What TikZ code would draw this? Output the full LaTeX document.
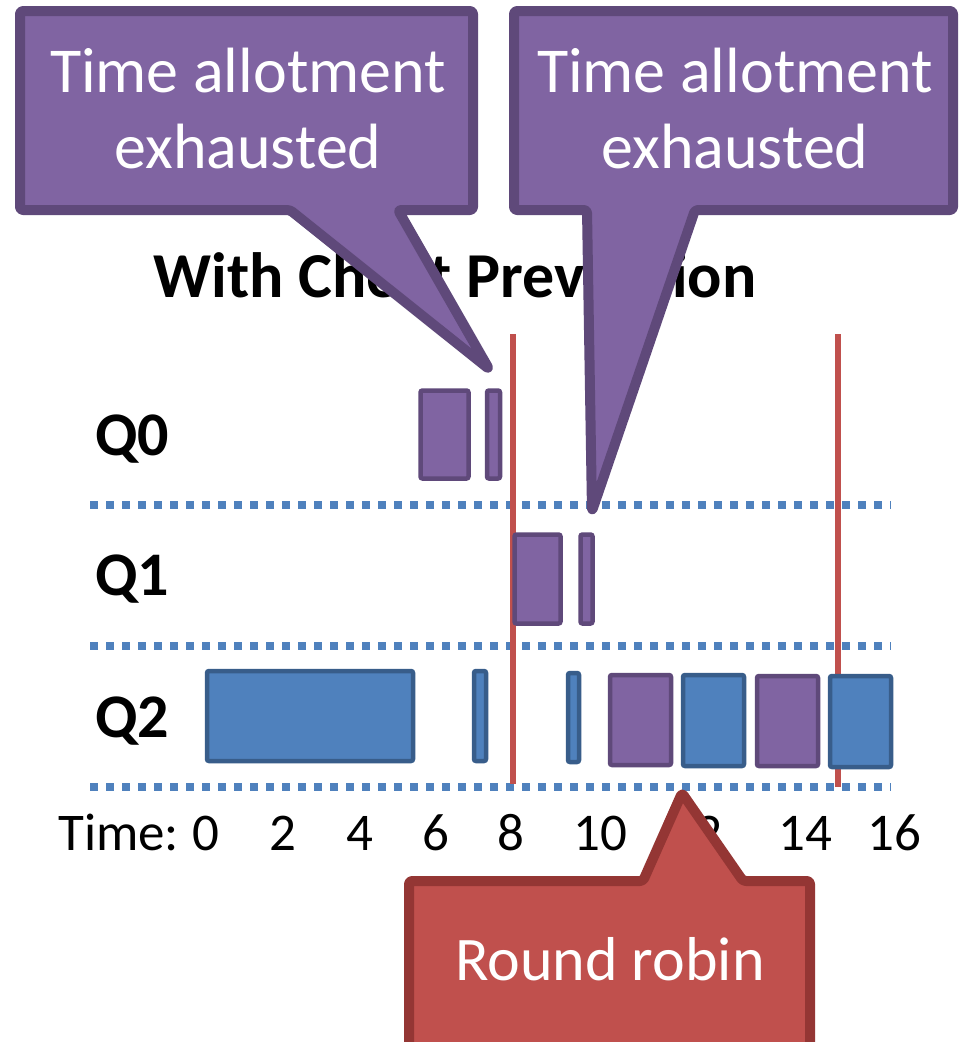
\documentclass[tikz,border=0pt]{standalone}
\usepackage{fontspec}
\setmainfont{Carlito}
\definecolor{pfill}{HTML}{8064A2}
\definecolor{pline}{HTML}{5F497A}
\definecolor{bfill}{HTML}{4F81BD}
\definecolor{bline}{HTML}{385D8A}
\definecolor{rfill}{HTML}{C0504D}
\definecolor{rline}{HTML}{943634}
\tikzset{
  pjob/.style={draw=pline, fill=pfill, line width=4.5pt, rounded corners=2pt},
  bjob/.style={draw=bline, fill=bfill, line width=4.5pt, rounded corners=2pt},
  lane/.style={draw=bfill, line width=8pt, dash pattern=on 8pt off 8pt},
  boostline/.style={draw=rfill, line width=5.5pt},
  pcallout/.style={draw=pline, fill=pfill, line width=10pt, line join=round, rounded corners=3pt},
  rcallout/.style={draw=rline, fill=rfill, line width=10pt, line join=round, rounded corners=3pt},
  ctext/.style={text=white, font=\fontsize{64}{76}\selectfont, inner sep=0pt, anchor=base},
  qlabel/.style={font=\bfseries\fontsize{62}{76}\selectfont, inner sep=0pt, anchor=base west},
  tick/.style={font=\fontsize{53}{64}\selectfont, inner sep=0pt, anchor=base},
}
\begin{document}
\begin{tikzpicture}[x=1pt,y=-1pt]
\clip (0,0) rectangle (961,1042);
\fill[white] (0,0) rectangle (961,1042);

% title
\node[font=\bfseries\fontsize{64}{76}\selectfont, inner sep=0pt, anchor=base] (title) at (455,297) {With Cheat Prevention};

% queue labels
\node[qlabel] (q0) at (95,455) {Q0};
\node[qlabel] (q1) at (95,595) {Q1};
\node[qlabel] (q2) at (95,737) {Q2};

% lane separators
\coordinate (s1a) at (90,505); \coordinate (s1b) at (891,505);
\coordinate (s2a) at (90,646); \coordinate (s2b) at (891,646);
\coordinate (s3a) at (90,787); \coordinate (s3b) at (891,787);
\draw[lane] (s1a) -- (s1b);
\draw[lane] (s2a) -- (s2b);
\draw[lane] (s3a) -- (s3b);

% priority boost marks
\coordinate (m1a) at (513,334); \coordinate (m1b) at (513,784);
\coordinate (m2a) at (838,334); \coordinate (m2b) at (838,787);
\draw[boostline] (m1a) -- (m1b);
\draw[boostline] (m2a) -- (m2b);

% Q0 jobs
\draw[pjob] (420.5,390.5) rectangle (468.5,478.5);
\draw[pjob] (487,390.5) rectangle (500,478.5);
% Q1 jobs
\draw[pjob] (514.5,534.5) rectangle (560.5,623.5);
\draw[pjob] (580.5,534.5) rectangle (592.5,623.5);
% Q2 jobs
\draw[bjob] (207,671) rectangle (413,761);
\draw[bjob] (474,671) rectangle (486,761);
\draw[bjob] (568,673) rectangle (579,762);
\draw[pjob] (610,675) rectangle (671,765);
\draw[bjob] (683,675) rectangle (744,766);
\draw[pjob] (757,676) rectangle (818,766);
\draw[bjob] (830,676) rectangle (891,767);

% time axis
\node[tick, anchor=base west] (tlabel) at (58,850) {Time:};
\foreach \v/\x in {0/206,2/283,4/360,6/436,8/511,10/600,12/695,14/805,16/894}
  \node[tick] (t\v) at (\x,850) {\v};

% callouts
\draw[pcallout] (20,11) -- (473,11) -- (473,210) -- (398,210) -- (489,369) -- (290,210) -- (20,210) -- cycle;
\node[ctext] (c1a) at (248,92) {Time allotment};
\node[ctext] (c1b) at (248,168) {exhausted};

\draw[pcallout] (514,11) -- (953,11) -- (953,210) -- (695,210) -- (592,511) -- (587,210) -- (514,210) -- cycle;
\node[ctext] (c2a) at (735,92) {Time allotment};
\node[ctext] (c2b) at (735,168) {exhausted};

\draw[rcallout] (409,881) -- (643,881) -- (682,793) -- (743,881) -- (810,881) -- (810,1070) -- (409,1070) -- cycle;
\node[ctext, font=\fontsize{62}{76}\selectfont] (rr) at (610,980) {Round robin};
\end{tikzpicture}
\end{document}
